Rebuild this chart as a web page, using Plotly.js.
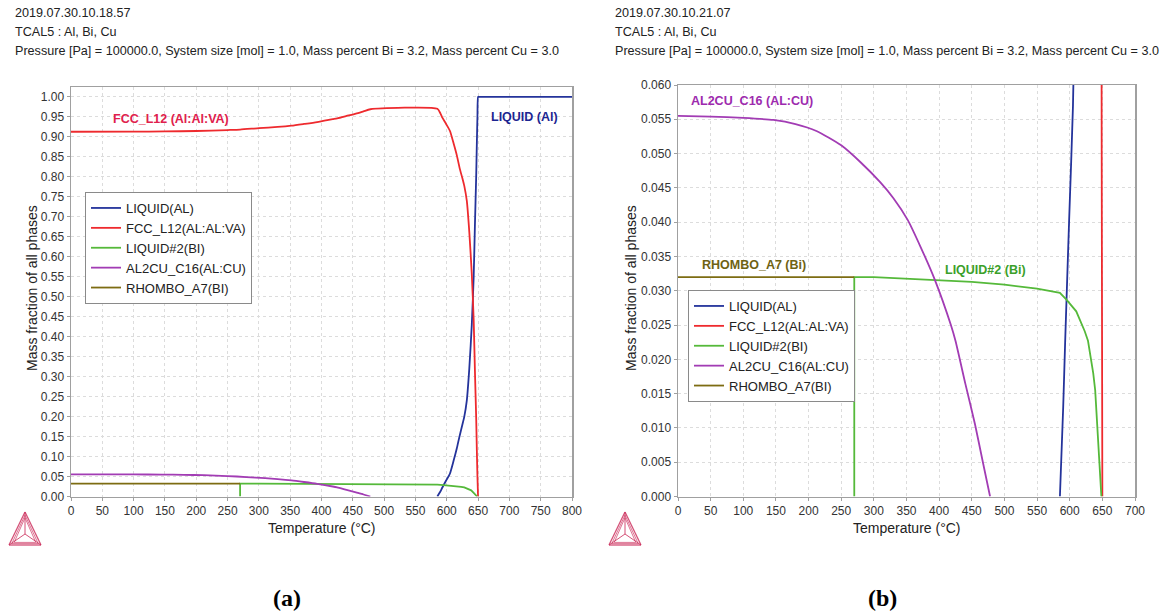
<!DOCTYPE html>
<html>
<head>
<meta charset="utf-8">
<script src="https://cdn.plot.ly/plotly-3.0.1.min.js"></script>
<style>html,body{margin:0;padding:0;background:#fff;}#chart{width:1165px;height:615px;}</style>
</head>
<body>
<div id="chart"></div>
<script>
// ---------------- data ----------------
const seriesNames = ["LIQUID(AL)", "FCC_L12(AL:AL:VA)", "LIQUID#2(BI)", "AL2CU_C16(AL:CU)", "RHOMBO_A7(BI)"];

const liquidAlT = [585, 590, 593, 599, 605, 611, 616, 620, 625, 628, 632, 636, 640, 643, 645, 647, 648, 649, 650, 651, 660, 700, 750, 800];
const liquidAlF = [0, 0.013, 0.0225, 0.040, 0.057, 0.09, 0.12, 0.148, 0.18, 0.20, 0.24, 0.32, 0.43, 0.55, 0.68, 0.80, 0.88, 0.95, 1.0, 1.0, 1.0, 1.0, 1.0, 1.0];

const fccT = [0, 100, 150, 200, 250, 270, 300, 330, 352, 372, 393, 418, 425, 440, 455, 467, 478, 585, 590, 593, 599, 605, 611, 616, 621, 625, 628, 632, 636, 640, 643, 645, 647, 648, 649, 650];
const fccF = [0.9125, 0.9128, 0.9133, 0.9144, 0.9168, 0.918, 0.9215, 0.9245, 0.9277, 0.932, 0.9367, 0.9441, 0.9461, 0.952, 0.958, 0.9636, 0.9688, 0.970, 0.958, 0.948, 0.932, 0.915, 0.883, 0.854, 0.819, 0.796, 0.777, 0.740, 0.662, 0.556, 0.441, 0.314, 0.197, 0.119, 0.05, 0];

const liquid2T = [270, 270, 300, 350, 400, 450, 500, 550, 585, 595, 610, 623, 628, 632, 636, 639, 643, 646, 648.5];
const liquid2F = [0, 0.0320, 0.0320, 0.0318, 0.0316, 0.0313, 0.0309, 0.0303, 0.0297, 0.0287, 0.0270, 0.0241, 0.0227, 0.0205, 0.0180, 0.0155, 0.0090, 0.0040, 0];

const al2cuT = [0, 50, 100, 146, 180, 212, 250, 280, 310, 330, 352, 372, 393, 418, 425, 440, 455, 467, 478];
const al2cuF = [0.0555, 0.0554, 0.0552, 0.0549, 0.0543, 0.0533, 0.0512, 0.0487, 0.0458, 0.0435, 0.0403, 0.0363, 0.0317, 0.0250, 0.0227, 0.0165, 0.0105, 0.0050, 0];

const rhomboT = [0, 270];
const rhomboF = [0.0320, 0.0320];

const leftYTicks = [0, 0.05, 0.10, 0.15, 0.20, 0.25, 0.30, 0.35, 0.40, 0.45, 0.50, 0.55, 0.60, 0.65, 0.70, 0.75, 0.80, 0.85, 0.90, 0.95, 1.00];
const rightYTicks = [0, 0.005, 0.010, 0.015, 0.020, 0.025, 0.030, 0.035, 0.040, 0.045, 0.050, 0.055, 0.060];
const leftXTicks = [0, 50, 100, 150, 200, 250, 300, 350, 400, 450, 500, 550, 600, 650, 700, 750, 800];
const rightXTicks = [0, 50, 100, 150, 200, 250, 300, 350, 400, 450, 500, 550, 600, 650, 700];

// ---------------- styling ----------------
const W = 1165, H = 615;
const px = x => x / W;
const py = y => 1 - y / H;
const FONT = "Liberation Sans, Arial, sans-serif";
const colors = ["#24339b", "#ee2a2e", "#55b93a", "#a23cb4", "#7d6c12"];
const shapes = ["spline", "spline", "linear", "spline", "linear"];
const seriesX = [liquidAlT, fccT, liquid2T, al2cuT, rhomboT];
const seriesY = [liquidAlF, fccF, liquid2F, al2cuF, rhomboF];

const traces = [];
[["x", "y", "legend"], ["x2", "y2", "legend2"]].forEach(([xa, ya, lg]) => {
  seriesNames.forEach((n, i) => {
    traces.push({
      type: "scatter", mode: "lines", name: n,
      x: seriesX[i], y: seriesY[i], xaxis: xa, yaxis: ya, legend: lg,
      line: {color: colors[i], width: 1.8, shape: shapes[i], smoothing: 0.6},
      hoverinfo: "skip"
    });
  });
});

function axisBase() {
  return {
    showline: true, mirror: true, linecolor: "#a0a0a0", linewidth: 1.5,
    showgrid: true, gridcolor: "#dcdcdc", griddash: "dot", gridwidth: 1,
    zeroline: false, ticks: "outside", ticklen: 3, tickcolor: "#a0a0a0",
    tickfont: {family: FONT, size: 12, color: "#333"}, fixedrange: true
  };
}

const legendBase = {xanchor: "left", yanchor: "top", bgcolor: "#fff", bordercolor: "#8a8a8a", borderwidth: 1,
  font: {family: FONT, size: 13, color: "#222"}, itemwidth: 30, tracegroupgap: 0};

const layout = {
  width: W, height: H, autosize: false,
  margin: {l: 0, r: 0, t: 0, b: 0},
  paper_bgcolor: "#fff", plot_bgcolor: "#fff",
  showlegend: true,
  xaxis: Object.assign(axisBase(), {domain: [px(71), px(572)], range: [0, 800], tickvals: leftXTicks, anchor: "y"}),
  yaxis: Object.assign(axisBase(), {domain: [py(496.5), py(87)], range: [0, 1.0245], tickvals: leftYTicks, tickformat: ".2f", anchor: "x"}),
  xaxis2: Object.assign(axisBase(), {domain: [px(678), px(1135)], range: [0, 700], tickvals: rightXTicks, anchor: "y2"}),
  yaxis2: Object.assign(axisBase(), {domain: [py(496.5), py(85)], range: [0, 0.060], tickvals: rightYTicks, tickformat: ".3f", anchor: "x2"}),
  legend: Object.assign({}, legendBase, {x: px(85), y: py(192)}),
  legend2: Object.assign({}, legendBase, {x: px(688), y: py(290)}),
  annotations: [],
  shapes: []
};

function paperText(text, x, y, opts) {
  layout.annotations.push(Object.assign({
    text: text, xref: "paper", yref: "paper", x: px(x), y: py(y),
    showarrow: false, xanchor: "left", yanchor: "middle",
    font: {family: FONT, size: 12.6, color: "#222"}
  }, opts || {}));
}

// headers
paperText("2019.07.30.10.18.57", 13, 13);
paperText("TCAL5 : Al, Bi, Cu", 13, 32);
paperText("Pressure [Pa] = 100000.0, System size [mol] = 1.0, Mass percent Bi = 3.2, Mass percent Cu = 3.0", 13, 51);
paperText("2019.07.30.10.21.07", 613, 13);
paperText("TCAL5 : Al, Bi, Cu", 613, 32);
paperText("Pressure [Pa] = 100000.0, System size [mol] = 1.0, Mass percent Bi = 3.2, Mass percent Cu = 3.0", 613, 51);

// axis titles
const titleFont = {family: FONT, size: 14, color: "#222"};
paperText("Mass fraction of all phases", 32, 288, {textangle: -90, xanchor: "center", font: titleFont});
paperText("Mass fraction of all phases", 631, 288, {textangle: -90, xanchor: "center", font: titleFont});
paperText("Temperature (°C)", 321.5, 528, {xanchor: "center", font: titleFont});
paperText("Temperature (°C)", 906.5, 528, {xanchor: "center", font: titleFont});

// subfigure labels
paperText("<b>(a)</b>", 287, 598, {xanchor: "center", font: {family: "Liberation Serif, Times New Roman, serif", size: 24, color: "#000"}});
paperText("<b>(b)</b>", 882, 598, {xanchor: "center", font: {family: "Liberation Serif, Times New Roman, serif", size: 24, color: "#000"}});

// in-plot phase labels
function dataText(text, xa, ya, x, y, color) {
  layout.annotations.push({text: "<b>" + text + "</b>", xref: xa, yref: ya, x: x, y: y, showarrow: false,
    xanchor: "center", yanchor: "middle", font: {family: FONT, size: 12.5, color: color}});
}
dataText("FCC_L12 (Al:Al:VA)", "x", "y", 159, 0.9456, "#e0204c");
dataText("LIQUID (Al)", "x", "y", 724, 0.95, "#1c2591");
dataText("AL2CU_C16 (AL:CU)", "x2", "y2", 114, 0.0577, "#9d2aae");
dataText("RHOMBO_A7 (Bi)", "x2", "y2", 116, 0.0338, "#6e6212");
dataText("LIQUID#2 (Bi)", "x2", "y2", 471, 0.0330, "#3ba02a");

// Thermo-Calc style logos (decoration)
function logo(cx) {
  const top = [cx, 512], bl = [cx - 16, 545], br = [cx + 16, 545], c = [cx, 534];
  const col = "rgba(205,50,95,0.85)";
  const seg = (a, b, w) => layout.shapes.push({type: "line", xref: "paper", yref: "paper",
    x0: px(a[0]), y0: py(a[1]), x1: px(b[0]), y1: py(b[1]), line: {color: col, width: w || 1}});
  seg(top, bl, 1.3); seg(bl, br, 1.3); seg(br, top, 1.3);
  seg(top, c); seg(bl, c); seg(br, c);
  [0.35, 0.65].forEach(f => {
    const t = [cx, 512 + (534 - 512) * f * 0.4];
    const l = [cx - 16 * (1 - f * 0.5), 545 - 4 * f];
    const r = [cx + 16 * (1 - f * 0.5), 545 - 4 * f];
    seg(t, l, 0.8); seg(l, r, 0.8); seg(r, t, 0.8);
  });
}
logo(25);
logo(625);

Plotly.newPlot("chart", traces, layout, {staticPlot: true, displayModeBar: false});
</script>
</body>
</html>
